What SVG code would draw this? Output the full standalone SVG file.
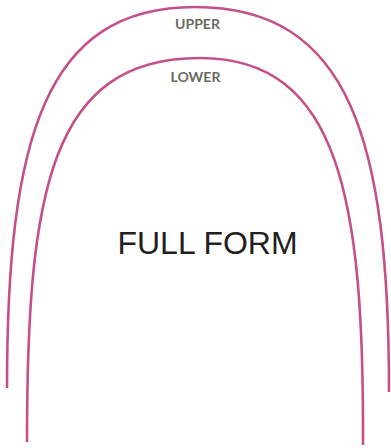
<svg xmlns="http://www.w3.org/2000/svg" width="391" height="448" viewBox="0 0 391 448">
<style>
.wire{fill:none;stroke:#c4508a;stroke-width:2.6;stroke-linecap:butt}
.lbl{font-family:Lato,"Open Sans",sans-serif;font-weight:bold;font-size:14px;fill:#6a6a60;text-anchor:middle}
.title{font-family:"Liberation Sans",Arial,sans-serif;font-size:32px;fill:#231f20;text-anchor:middle}
</style>
<rect width="391" height="448" fill="#ffffff"/>
<g id="upper">
<path class="wire" d="M7,388 C7,138 45,7 195,7 C350,7 389,140 389,392"/>
<text class="lbl" x="197.5" y="28.5">UPPER</text>
</g>
<g id="lower">
<path class="wire" d="M27,442 C27,192 50,58 200,58 C340,58 364,200 363,445"/>
<text class="lbl" x="195.5" y="81.5">LOWER</text>
</g>
<g id="title">
<text class="title" x="207.5" y="254">FULL FORM</text>
</g>
</svg>
